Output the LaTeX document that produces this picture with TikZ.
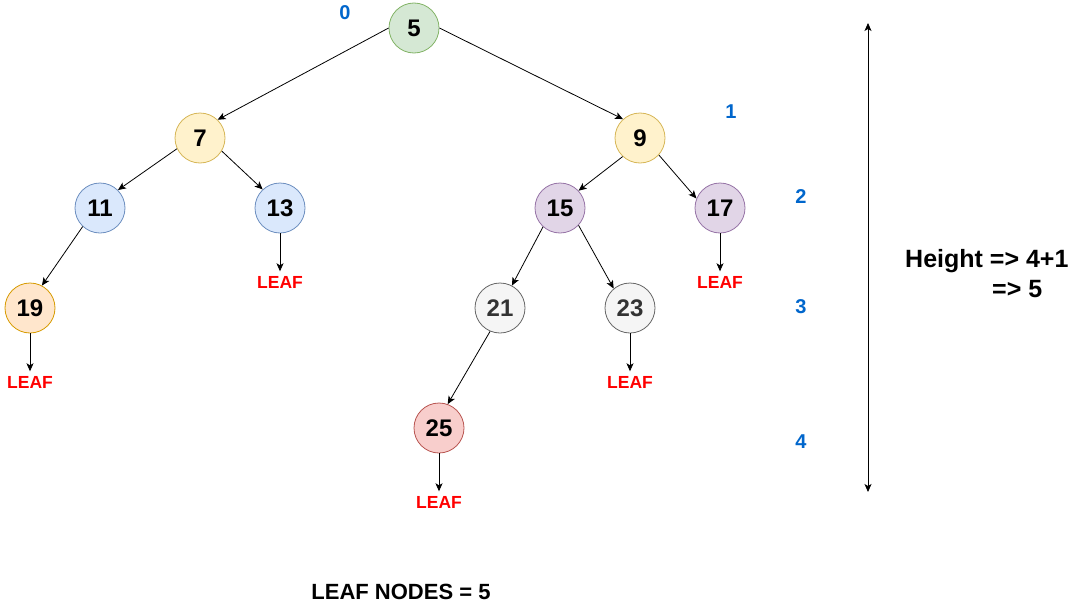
\documentclass[tikz,border=0pt]{standalone}
\usepackage{fontspec}
\setmainfont{Liberation Sans}
\usetikzlibrary{arrows.meta}
\definecolor{gF}{HTML}{D5E8D4}\definecolor{gS}{HTML}{82B366}
\definecolor{yF}{HTML}{FFF2CC}\definecolor{yS}{HTML}{D6B656}
\definecolor{bF}{HTML}{DAE8FC}\definecolor{bS}{HTML}{6C8EBF}
\definecolor{pF}{HTML}{E1D5E7}\definecolor{pS}{HTML}{9673A6}
\definecolor{oF}{HTML}{FFE6CC}\definecolor{oS}{HTML}{D79B00}
\definecolor{kF}{HTML}{F5F5F5}\definecolor{kS}{HTML}{666666}\definecolor{kT}{HTML}{333333}
\definecolor{rF}{HTML}{F8CECC}\definecolor{rS}{HTML}{B85450}
\definecolor{lvl}{HTML}{0066CC}
\definecolor{leafred}{HTML}{FF0000}
\tikzset{
  treenode/.style={circle, minimum size=50pt, inner sep=0pt, line width=0.8pt,
    font=\fontsize{24}{28}\selectfont\bfseries},
  green/.style={treenode, fill=gF, draw=gS},
  yel/.style={treenode, fill=yF, draw=yS},
  blu/.style={treenode, fill=bF, draw=bS},
  pur/.style={treenode, fill=pF, draw=pS},
  ora/.style={treenode, fill=oF, draw=oS},
  gry/.style={treenode, fill=kF, draw=kS, text=kT},
  rd/.style={treenode, fill=rF, draw=rS},
  leaflbl/.style={inner sep=0pt, text height=12pt, text depth=0pt, text=leafred,
    font=\fontsize{17.5}{20}\selectfont\bfseries},
  lvllbl/.style={inner sep=0pt, text=lvl, font=\fontsize{20}{23}\selectfont\bfseries},
  edge/.style={line width=0.8pt, -{Stealth[length=8pt,width=7pt,inset=2pt]}},
  leafedge/.style={edge, shorten >=4.5pt},
  bigtext/.style={inner sep=0pt, font=\fontsize{25}{30}\selectfont\bfseries, align=left},
}
\begin{document}
\begin{tikzpicture}[x=1pt,y=-1pt]
\useasboundingbox (0,0) rectangle (1076,605);
% tree nodes
\node[green] (n5)  at (414,28)  {5};
\node[yel]   (n7)  at (200,138) {7};
\node[yel]   (n9)  at (640,138) {9};
\node[blu]   (n11) at (100,208) {11};
\node[blu]   (n13) at (280,208) {13};
\node[pur]   (n15) at (560,208) {15};
\node[pur]   (n17) at (720,208) {17};
\node[ora]   (n19) at (30,308)  {19};
\node[gry]   (n21) at (500,308) {21};
\node[gry]   (n23) at (630,308) {23};
\node[rd]    (n25) at (439,428) {25};
% leaf labels
\node[leaflbl] (l13) at (280,282) {LEAF};
\node[leaflbl] (l17) at (720,282) {LEAF};
\node[leaflbl] (l19) at (30,382)  {LEAF};
\node[leaflbl] (l23) at (630,382) {LEAF};
\node[leaflbl] (l25) at (439,502) {LEAF};
% level labels
\node[lvllbl] (lv0) at (345,13)  {0};
\node[lvllbl] (lv1) at (731,112) {1};
\node[lvllbl] (lv2) at (801,197) {2};
\node[lvllbl] (lv3) at (801,307) {3};
\node[lvllbl] (lv4) at (801,442) {4};
% edges
\draw[edge] (n5.west) -- (n7.46);
\draw[edge] (n5.east) -- (n9.132);
\draw[edge] (n7.205) -- (n11.45);
\draw[edge] (n7.329) -- (n13.133);
\draw[edge] (n11.227) -- (n19.62);
\draw[edge] (n9.227) -- (n15.43);
\draw[edge] (n9.318) -- (n17.158);
\draw[edge] (n15.228) -- (n21.62);
\draw[edge] (n15.317) -- (n23.130);
\draw[edge] (n21.247) -- (n25.70);
% leaf edges
\draw[leafedge] (n13.south) -- (l13.north);
\draw[leafedge] (n17.south) -- (l17.north);
\draw[leafedge] (n19.south) -- (l19.north);
\draw[leafedge] (n23.south) -- (l23.north);
\draw[leafedge] (n25.south) -- (l25.north);
% height arrow
\coordinate (htop) at (868,23);
\coordinate (hbot) at (868,492);
\draw[line width=0.8pt, {Stealth[length=8pt,width=7pt,inset=2pt]}-{Stealth[length=8pt,width=7pt,inset=2pt]}] (htop) -- (hbot);
% texts
\node[bigtext, anchor=west] (ht) at (905,274) {Height =\textgreater{} 4+1\\\hspace*{87pt}=\textgreater{} 5};
\node[inner sep=0pt, font=\fontsize{22}{26}\selectfont\bfseries] (leafcount) at (401,592) {LEAF NODES = 5};
\end{tikzpicture}
\end{document}
